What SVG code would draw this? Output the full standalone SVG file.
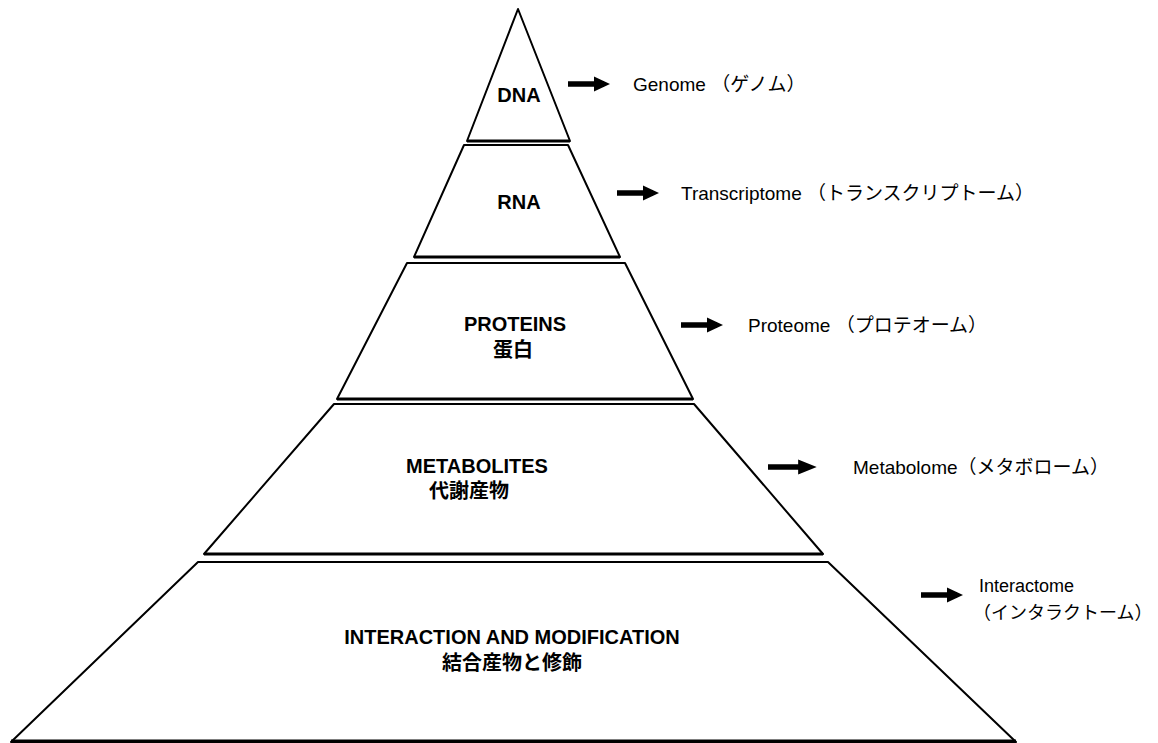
<svg xmlns="http://www.w3.org/2000/svg" width="1158" height="743" viewBox="0 0 1158 743">
<style>
.layer{fill:#fff;stroke:#000;stroke-width:2;stroke-linejoin:round}
.base{stroke:#000;stroke-width:3.2;fill:none}
.lbl{font-family:"Liberation Sans","Noto Sans CJK JP",sans-serif;font-weight:bold;font-size:20px;fill:#000;text-anchor:middle}
.jp{font-family:"Noto Sans CJK JP","Liberation Sans",sans-serif;font-weight:bold;font-size:20px;fill:#000;text-anchor:middle}
.out{font-family:"Liberation Sans","Noto Sans CJK JP",sans-serif;font-size:19px;fill:#000}
.out2{font-family:"Liberation Sans","Noto Sans CJK JP",sans-serif;font-size:18px;fill:#000}
.arr{fill:#000}
</style>
<defs>
<path id="arrow" d="M0,-2.8 L26,-2.8 L26,-7.5 L42,0 L26,7.5 L26,2.8 L0,2.8 Z"/>
</defs>
<rect width="1158" height="743" fill="#fff"/>
<g id="dna">
<polygon class="layer" points="518,9 570,141 467,141"/>
<line class="base" x1="467" y1="141" x2="570" y2="141"/>
<text class="lbl" x="519" y="102">DNA</text>
</g>
<g id="rna">
<polygon class="layer" points="464,145 568,145 620,257 414,257"/>
<line class="base" x1="414" y1="257" x2="620" y2="257"/>
<text class="lbl" x="519" y="209">RNA</text>
</g>
<g id="proteins">
<polygon class="layer" points="407,263 625,263 693,399 337,399"/>
<line class="base" x1="337" y1="399" x2="693" y2="399"/>
<text class="lbl" x="515" y="331">PROTEINS</text>
<text class="jp" x="513" y="357">蛋白</text>
</g>
<g id="metabolites">
<polygon class="layer" points="334,404 694,404 823,554 204,554"/>
<line class="base" x1="204" y1="554" x2="823" y2="554"/>
<text class="lbl" x="477" y="473">METABOLITES</text>
<text class="jp" x="469" y="498">代謝産物</text>
</g>
<g id="interaction">
<polygon class="layer" points="198,562 828,562 1016,742 11,742"/>
<line class="base" x1="11" y1="741" x2="1016" y2="741"/>
<text class="lbl" x="512" y="644">INTERACTION AND MODIFICATION</text>
<text class="jp" x="512" y="670">結合産物と修飾</text>
</g>
<g id="connectors" class="arr">
<use href="#arrow" x="568" y="84"/>
<use href="#arrow" x="617" y="193"/>
<use href="#arrow" x="681" y="325"/>
<use href="#arrow" transform="translate(768,467) scale(1.16,1)"/>
<use href="#arrow" x="921" y="595"/>
</g>
<g id="labels">
<text class="out" x="633" y="91">Genome （ゲノム）</text>
<text class="out" x="681" y="200">Transcriptome （トランスクリプトーム）</text>
<text class="out" x="748" y="332">Proteome （プロテオーム）</text>
<text class="out" x="853" y="474">Metabolome（メタボローム）</text>
<text class="out2" x="979" y="592">Interactome</text>
<text class="out2" x="973" y="619">（インタラクトーム）</text>
</g>
</svg>
